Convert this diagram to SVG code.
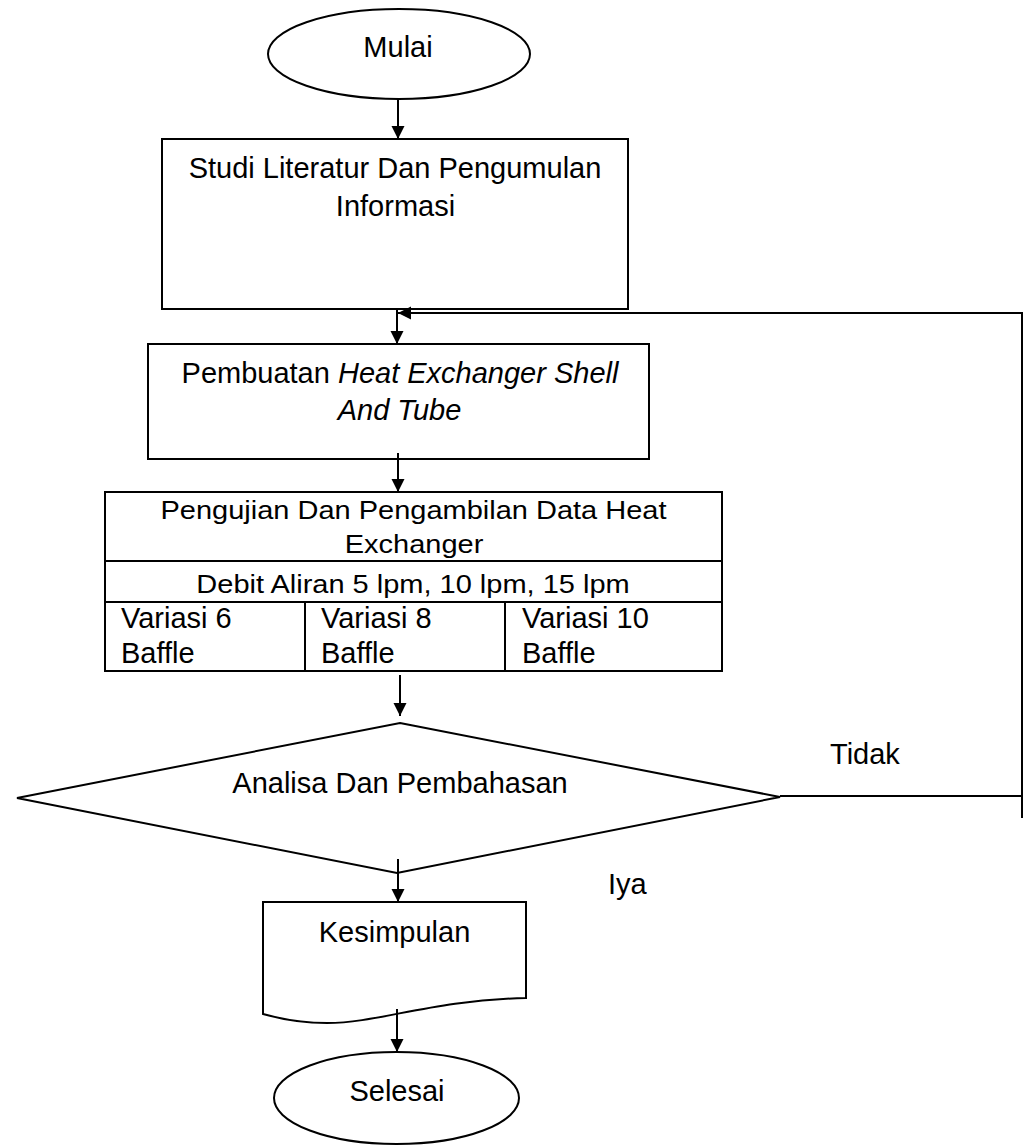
<svg xmlns="http://www.w3.org/2000/svg" width="1024" height="1146" viewBox="0 0 1024 1146">
<style>
.s{fill:#fff;stroke:#000;stroke-width:2}
.c{fill:none;stroke:#000;stroke-width:2}
text{font-family:"Liberation Sans",Arial,sans-serif;font-size:29px;fill:#000}
.m{text-anchor:middle}
</style>
<defs>
<marker id="ah" markerWidth="14" markerHeight="14" refX="13" refY="6.5" orient="auto" markerUnits="userSpaceOnUse"><path d="M0,0 L13,6.5 L0,13 Z" fill="#000"/></marker>
</defs>
<rect width="1024" height="1146" fill="#fff"/>
<g id="mulai">
<ellipse class="s" cx="399" cy="54" rx="131" ry="45"/>
<text class="m" x="398" y="57">Mulai</text>
</g>
<g id="studi">
<rect class="s" x="162" y="139" width="466" height="170"/>
<text class="m" x="395" y="178">Studi Literatur Dan Pengumulan</text>
<text class="m" x="395.5" y="216">Informasi</text>
</g>
<g id="pembuatan">
<rect class="s" x="148" y="344" width="501" height="115"/>
<text class="m" x="400" y="383">Pembuatan <tspan font-style="italic">Heat Exchanger Shell</tspan></text>
<text class="m" x="399.5" y="420" font-style="italic">And Tube</text>
</g>
<g id="pengujian">
<rect class="s" x="105" y="492" width="617" height="179"/>
<line class="c" x1="105" y1="561" x2="722" y2="561"/>
<line class="c" x1="105" y1="602" x2="722" y2="602"/>
<line class="c" x1="305" y1="602" x2="305" y2="671"/>
<line class="c" x1="505" y1="602" x2="505" y2="671"/>
<text class="m" transform="translate(413.5,519) scale(1,0.86)">Pengujian Dan Pengambilan Data Heat</text>
<text class="m" transform="translate(414,553) scale(1,0.86)">Exchanger</text>
<text class="m" transform="translate(413,593) scale(1,0.86)">Debit Aliran 5 lpm, 10 lpm, 15 lpm</text>
<text x="121" y="628">Variasi 6</text>
<text x="121" y="663">Baffle</text>
<text x="321" y="628">Variasi 8</text>
<text x="321" y="663">Baffle</text>
<text x="522" y="628">Variasi 10</text>
<text x="522" y="663">Baffle</text>
</g>
<g id="analisa">
<polygon class="s" points="400,723 780,797 397,873 17,798"/>
<text class="m" x="400" y="793">Analisa Dan Pembahasan</text>
</g>
<g id="kesimpulan">
<path class="s" d="M263,902 H526 V998 C430,1000 380,1023 327,1023 Q295,1023 263,1014 Z"/>
<text class="m" x="394.5" y="942">Kesimpulan</text>
</g>
<g id="selesai">
<ellipse class="s" cx="396.5" cy="1098" rx="122.5" ry="46"/>
<text class="m" x="397" y="1101">Selesai</text>
</g>
<g id="connectors">
<line class="c" x1="398" y1="99" x2="398" y2="139" marker-end="url(#ah)"/>
<line class="c" x1="397" y1="309" x2="397" y2="344" marker-end="url(#ah)"/>
<line class="c" x1="398" y1="453" x2="398" y2="492" marker-end="url(#ah)"/>
<line class="c" x1="400" y1="675" x2="400" y2="716" marker-end="url(#ah)"/>
<line class="c" x1="398" y1="859" x2="398" y2="902" marker-end="url(#ah)"/>
<line class="c" x1="397" y1="1009" x2="397" y2="1052" marker-end="url(#ah)"/>
<polyline class="c" points="780,796 1022,796"/>
<polyline class="c" points="1022,818 1022,313 398,313" marker-end="url(#ah)"/>
<text x="830" y="764">Tidak</text>
<text x="608" y="894">Iya</text>
</g>
</svg>
